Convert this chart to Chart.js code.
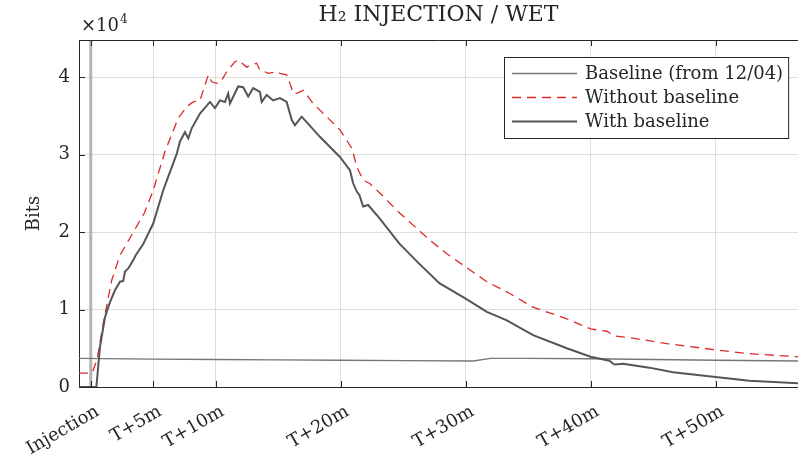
<!DOCTYPE html>
<html><head><meta charset="utf-8">
<script src="https://cdn.jsdelivr.net/npm/chart.js@4.4.0/dist/chart.umd.min.js"></script>
<style>html,body{margin:0;padding:0;background:#fff;overflow:hidden}</style>
</head><body>
<canvas id="c" width="798" height="462"></canvas>
<script>
// ---- data (minutes after injection, bits) ----
const tickMinutes = [0, 5, 10, 20, 30, 40, 50];
const tickLabels = ['Injection', 'T+5m', 'T+10m', 'T+20m', 'T+30m', 'T+40m', 'T+50m'];
const yTickValues = [0, 10000, 20000, 30000, 40000];
const seriesNames = ['Baseline (from 12/04)', 'Without baseline', 'With baseline'];

const baselineMinutes = [-0.94, 5, 10, 15, 20, 25, 30.6, 32, 35, 40, 45, 50, 56.6];
const baselineBits = [3700, 3600, 3550, 3500, 3450, 3400, 3350, 3700, 3700, 3650, 3550, 3450, 3350];

const withoutMinutes = [-0.94, 0.1, 0.5, 1.0, 1.68, 2.34, 3.41, 4.3, 5.0, 5.94, 7.0, 7.68, 8.2, 8.74, 9.41, 9.68, 10.08, 10.48, 10.88, 11.54, 11.81, 12.48, 12.74, 13.28, 13.54, 13.94, 14.2, 14.88, 15.14, 15.68, 15.94, 16.2, 16.48, 17.0, 17.8, 18.88, 19.94, 20.9, 21.3, 21.8, 22.3, 23.3, 24.5, 25.8, 27.1, 28.5, 30.0, 31.7, 33.5, 35.4, 38.1, 40.0, 41.3, 41.9, 43.4, 46.1, 50.0, 52.7, 56.6];
const withoutBits = [1800, 1800, 3500, 8200, 13800, 17000, 20000, 22500, 25400, 30400, 34700, 36200, 36800, 37000, 40300, 39400, 39200, 39600, 40700, 42000, 42200, 41300, 41500, 41800, 40900, 40700, 40500, 40700, 40500, 40300, 39200, 37900, 37900, 38300, 36600, 34900, 33200, 30800, 28400, 26700, 26300, 24800, 22800, 20900, 19000, 17200, 15500, 13600, 12100, 10300, 8800, 7500, 7200, 6600, 6300, 5600, 4800, 4300, 3900];

const withMinutes = [-0.94, 0.45, 0.74, 1.14, 1.5, 1.94, 2.34, 2.6, 2.74, 3.0, 3.41, 3.6, 4.21, 4.6, 5.0, 5.8, 6.9, 7.14, 7.54, 7.81, 8.08, 8.74, 9.54, 9.94, 10.34, 10.74, 11.0, 11.14, 11.8, 12.2, 12.6, 13.0, 13.54, 13.68, 14.08, 14.6, 15.14, 15.68, 16.08, 16.34, 16.88, 17.28, 18.34, 19.94, 20.74, 21.0, 21.3, 21.5, 21.8, 22.2, 23.1, 24.7, 26.3, 27.9, 30.0, 31.7, 33.3, 35.4, 38.1, 40.0, 41.5, 41.9, 42.6, 44.7, 46.6, 50.0, 52.7, 56.6];
const withBits = [0, 0, 5200, 9000, 10800, 12500, 13600, 13700, 14900, 15300, 16400, 17000, 18500, 19800, 21100, 25400, 30200, 31700, 32900, 32100, 33400, 35300, 36800, 36000, 37000, 36800, 37900, 36600, 38800, 38700, 37500, 38600, 38100, 36800, 37700, 37000, 37300, 36800, 34500, 33800, 34900, 34200, 32300, 29700, 28000, 26300, 25200, 24800, 23300, 23500, 21800, 18500, 15900, 13400, 11400, 9700, 8600, 6700, 5000, 3900, 3400, 2900, 3000, 2500, 1900, 1300, 800, 500];

const injectionMinutes = [0, 0];
const injectionBits = [0, 44800];

const xMin = -0.94, xMax = 56.6, yMax = 44800;

// ---- rendering ----
const FONT = '"DejaVu Serif", serif';
const INK = '#262626';
Chart.defaults.font.family = FONT;
Chart.defaults.color = INK;

const pts = (xs, ys) => xs.map((x, i) => ({ x: x, y: ys[i] }));

const framePlugin = {
  id: 'frame',
  afterDatasetsDraw(chart) {
    const ctx = chart.ctx, ca = chart.chartArea;
    const xs = chart.scales.x, ys = chart.scales.y;
    ctx.save();
    ctx.strokeStyle = INK; ctx.lineWidth = 1;
    ctx.beginPath();
    ctx.moveTo(ca.left, Math.round(ca.top) + 0.5); ctx.lineTo(ca.right, Math.round(ca.top) + 0.5);
    xs.ticks.forEach(t => {
      const p = Math.round(xs.getPixelForValue(t.value)) + 0.5;
      ctx.moveTo(p, ca.bottom); ctx.lineTo(p, ca.bottom - 6);
      ctx.moveTo(p, ca.top); ctx.lineTo(p, ca.top + 6);
    });
    ys.ticks.forEach(t => {
      const p = Math.round(ys.getPixelForValue(t.value)) + 0.5;
      ctx.moveTo(ca.left, p); ctx.lineTo(ca.left + 6, p);
    });
    ctx.stroke();
    // exponent label
    ctx.fillStyle = INK;
    ctx.textAlign = 'left'; ctx.textBaseline = 'alphabetic';
    ctx.font = '18px ' + FONT;
    ctx.fillText('\u00d710', ca.left + 2, ca.top - 9);
    const w = ctx.measureText('\u00d710').width;
    ctx.font = '12px ' + FONT;
    ctx.fillText('4', ca.left + 3 + w, ca.top - 17);
    ctx.restore();
  },
  afterDraw(chart) {
    const ctx = chart.ctx, ca = chart.chartArea;
    const items = chart.data.datasets.filter(d => d.inLegend).sort((a, b) => a.legendRank - b.legendRank);
    ctx.save();
    ctx.font = '18px ' + FONT;
    const textW = Math.max(...items.map(d => ctx.measureText(d.label).width));
    const sample = 65, gap = 8, padL = 8, padR = 5, rowH = 24;
    const w = padL + sample + gap + textW + padR, h = rowH * items.length + 9;
    const x0 = Math.round(ca.right - 10 - w), y0 = Math.round(ca.top + 17);
    ctx.fillStyle = '#fff'; ctx.fillRect(x0, y0, w, h);
    ctx.strokeStyle = INK; ctx.lineWidth = 1; ctx.strokeRect(x0 + 0.5, y0 + 0.5, w, h);
    items.forEach((d, i) => {
      const cy = y0 + 4.5 + rowH * i + rowH / 2;
      ctx.beginPath();
      ctx.setLineDash(d.borderDash || []);
      ctx.strokeStyle = d.borderColor; ctx.lineWidth = d.borderWidth;
      ctx.moveTo(x0 + padL, cy); ctx.lineTo(x0 + padL + sample, cy); ctx.stroke();
      ctx.setLineDash([]);
      ctx.fillStyle = INK; ctx.textBaseline = 'middle'; ctx.textAlign = 'left';
      ctx.fillText(d.label, x0 + padL + sample + gap, cy + 1);
    });
    ctx.restore();
  }
};

new Chart(document.getElementById('c'), {
  type: 'line',
  data: {
    datasets: [
      { label: seriesNames[2], data: pts(withMinutes, withBits), borderColor: '#555555', borderWidth: 2, pointRadius: 0, order: 1, inLegend: true, legendRank: 2 },
      { label: seriesNames[1], data: pts(withoutMinutes, withoutBits), borderColor: '#dc2a2a', borderWidth: 1.3, borderDash: [9, 6], pointRadius: 0, order: 2, inLegend: true, legendRank: 1 },
      { label: seriesNames[0], data: pts(baselineMinutes, baselineBits), borderColor: '#767676', borderWidth: 1.4, pointRadius: 0, order: 3, inLegend: true, legendRank: 0 },
      { label: 'Injection', data: pts(injectionMinutes, injectionBits), borderColor: '#b3b3b3', borderWidth: 3, pointRadius: 0, order: 4, inLegend: false }
    ]
  },
  options: {
    responsive: false,
    animation: false,
    devicePixelRatio: 1,
    layout: { padding: 0 },
    plugins: {
      legend: { display: false },
      tooltip: { enabled: false },
      title: {
        display: true, fullSize: false,
        text: 'H\u2082 INJECTION / WET',
        color: INK,
        font: { size: 22, weight: 'normal', family: FONT },
        padding: { top: 2, bottom: 11.6 }
      }
    },
    scales: {
      x: {
        type: 'linear', min: xMin, max: xMax,
        afterBuildTicks: s => { s.ticks = tickMinutes.map(v => ({ value: v })); },
        afterFit: s => { s.height = 75; s.paddingLeft = 0; s.paddingRight = 0; },
        ticks: {
          autoSkip: false, minRotation: 30, maxRotation: 30, labelOffset: 7, padding: 14,
          color: INK, font: { size: 18 },
          callback: v => tickLabels[tickMinutes.indexOf(v)]
        },
        grid: { color: '#dedede', drawTicks: false },
        border: { color: INK, width: 1 }
      },
      y: {
        type: 'linear', min: 0, max: yMax,
        afterBuildTicks: s => { s.ticks = yTickValues.map(v => ({ value: v })); },
        afterFit: s => { s.width = 79; },
        ticks: { padding: 9, color: INK, font: { size: 18 }, callback: v => String(v / 10000) },
        grid: { color: '#dedede', drawTicks: false },
        border: { color: INK, width: 1 },
        title: { display: true, text: 'Bits', color: INK, font: { size: 18 }, padding: { top: 24, bottom: 0 } }
      }
    }
  },
  plugins: [framePlugin]
});
</script>
</body></html>
